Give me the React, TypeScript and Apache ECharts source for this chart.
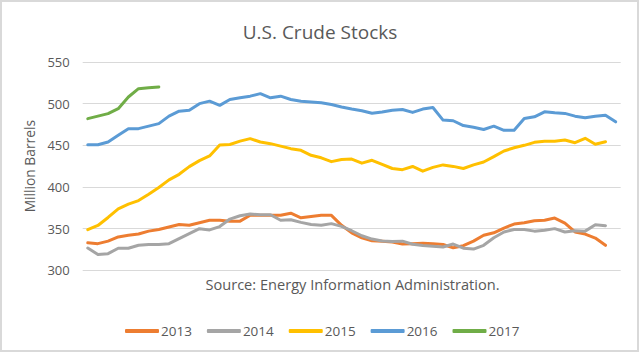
import React, { useEffect, useRef } from "react";
import * as echarts from "echarts";

const weeks: string[] = Array.from({ length: 53 }, (_, i) => `Week ${i + 1}`);
const yTicks = [300, 350, 400, 450, 500, 550];

const s2013 = [333, 332, 335, 340, 342, 343.5, 347, 349, 352, 355, 354, 357, 360, 360, 359, 359, 366, 366, 366, 366, 368.5, 363, 364.5, 366, 366, 354, 345, 339, 335.5, 335, 334, 331.5, 332, 332.5, 332, 331, 327, 329.5, 335, 342, 345, 350.7, 355.5, 357, 359.5, 360, 362.7, 356.7, 346, 343.5, 338.7, 330];
const s2014 = [326.7, 319, 320, 326.5, 326.5, 330, 331, 331, 332, 338, 344, 350, 348.5, 352.5, 361.5, 365.5, 367.5, 366.7, 366.7, 360, 360.7, 357.5, 355, 354, 356, 352.7, 347.5, 341.5, 337.5, 335.2, 334.5, 335, 331.2, 329.8, 328.8, 328, 331.5, 326.5, 325.5, 330, 339, 346, 349, 349, 347, 348, 350, 346, 347.5, 347, 354.6, 353.5];
const s2015 = [348.7, 353.8, 363.4, 373.8, 379.4, 383.7, 391.3, 399.3, 408.5, 415.2, 424.4, 431.6, 437.2, 450.3, 451, 455, 458, 454, 452, 449, 446, 444, 438, 435, 430.4, 433, 433.5, 428.6, 432, 427, 422.2, 420.8, 424.6, 419, 423.5, 426.5, 424.7, 422.2, 426.5, 430, 436.4, 443.2, 447.1, 450, 453.6, 454.8, 455, 456.4, 453.1, 458.4, 451.2, 454.3];
const s2016 = [450.7, 450.7, 454, 462, 470, 470, 473, 476, 485, 491, 492, 500, 503, 498, 505, 507, 509, 512, 507, 509, 505, 503, 502, 501, 499, 496, 493.5, 491.5, 488.5, 490, 492, 493, 489.5, 493.5, 495.4, 480.3, 479.5, 473.7, 471.7, 469, 473, 468, 468, 482.3, 484.2, 490.2, 489, 488.3, 485, 483, 485, 486.2, 478.2];
const s2017 = [482, 485, 488, 494, 508, 518, 519, 520];

const seriesNames = ["2013", "2014", "2015", "2016", "2017"];
const seriesData = [s2013, s2014, s2015, s2016, s2017];
const colors = ["#ED7D31", "#A5A5A5", "#FFC000", "#5B9BD5", "#70AD47"];

const FONT = "'Open Sans', Lato, sans-serif";
const TEXT = "#595959";

export default function App() {
  const ref = useRef<HTMLDivElement>(null);
  useEffect(() => {
    if (!ref.current) return;
    const chart = echarts.init(ref.current, null, { renderer: "svg" });
    chart.setOption({
      animation: false,
      backgroundColor: "#ffffff",
      textStyle: { fontFamily: FONT },
      title: {
        text: "U.S. Crude Stocks",
        left: "center",
        top: 17,
        textStyle: { fontFamily: FONT, fontSize: 19, fontWeight: "normal", color: TEXT },
      },
      grid: { left: 82.7, right: 19.3, top: 62, bottom: 82.7, containLabel: false },
      legend: {
        data: seriesNames,
        left: 120,
        top: 319,
        itemWidth: 34,
        itemHeight: 4,
        itemGap: 15,
        icon: "roundRect",
        textStyle: { fontFamily: FONT, fontSize: 13.5, color: TEXT, padding: [0, 0, 0, -3] },
      },
      xAxis: {
        type: "category",
        data: weeks,
        boundaryGap: true,
        axisLine: { show: false },
        axisTick: { show: false },
        axisLabel: { show: false },
        splitLine: { show: false },
      },
      yAxis: {
        type: "value",
        min: yTicks[0],
        max: yTicks[yTicks.length - 1],
        interval: 50,
        name: "Million Barrels",
        nameLocation: "middle",
        nameGap: 42,
        nameTextStyle: { fontFamily: FONT, fontSize: 13.8, color: TEXT },
        axisLine: { show: false },
        axisTick: { show: false },
        axisLabel: { fontFamily: FONT, fontSize: 13, color: TEXT, margin: 13 },
        splitLine: { lineStyle: { color: "#D9D9D9", width: 1 } },
      },
      graphic: [
        {
          type: "rect",
          shape: { x: 1, y: 1, width: 637, height: 350 },
          style: { fill: "none", stroke: "#D9D9D9", lineWidth: 2 },
          silent: true,
        },
        {
          type: "text",
          x: 352.5,
          y: 284,
          style: {
            text: "Source: Energy Information Administration.",
            fontFamily: FONT,
            fontSize: 14.6,
            fill: TEXT,
            textAlign: "center",
            textVerticalAlign: "middle",
          },
        },
      ],
      series: seriesNames.map((name, k) => ({
        name,
        type: "line",
        data: seriesData[k],
        symbol: "none",
        showSymbol: false,
        smooth: false,
        color: colors[k],
        lineStyle: { color: colors[k], width: 3, cap: "round", join: "round" },
      })),
    });
    return () => chart.dispose();
  }, []);
  return (
    <div
      ref={ref}
      style={{ position: "absolute", left: 0, top: 0, width: 640, height: 353 }}
    />
  );
}
